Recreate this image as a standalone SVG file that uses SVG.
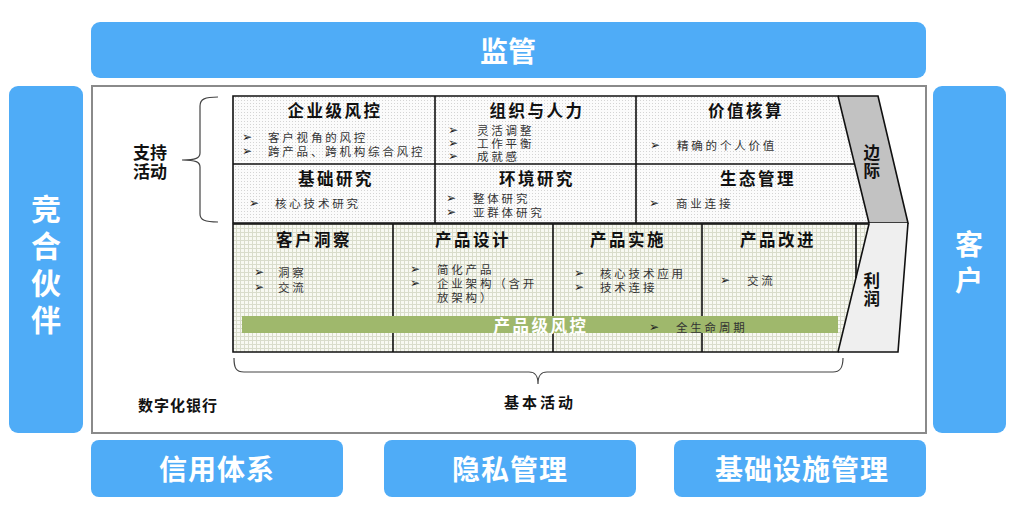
<svg xmlns="http://www.w3.org/2000/svg" width="1012" height="522" viewBox="0 0 1012 522">
<defs>
<pattern id="dots" width="3" height="3" patternUnits="userSpaceOnUse">
<rect width="3" height="3" fill="#fbfbfb"/>
<rect x="1" y="1" width="1" height="1" fill="#d4d4d4"/>
</pattern>
<pattern id="grid" width="4" height="4" patternUnits="userSpaceOnUse">
<rect width="4" height="4" fill="#f8f9f2"/>
<path d="M0,0.5H4M0.5,0V4" stroke="#d9dccb" stroke-width="1"/>
</pattern>
<style>
.blue{fill:#4facf7;}
.big{font-family:"Noto Sans CJK SC","Noto Sans",sans-serif;font-weight:700;fill:#fff;text-anchor:middle;dominant-baseline:central;}
.ttl{font-family:"Noto Sans CJK SC","Noto Sans",sans-serif;font-weight:700;font-size:16.5px;letter-spacing:2.5px;fill:#111;text-anchor:middle;dominant-baseline:central;}
.bt{font-family:"Noto Sans CJK SC",sans-serif;font-weight:400;font-size:11.5px;letter-spacing:2.8px;fill:#333;dominant-baseline:central;}
.ar{font-family:"DejaVu Sans",sans-serif;font-size:12px;fill:#222;dominant-baseline:central;}
.lbl{font-family:"Noto Sans CJK SC",sans-serif;font-weight:700;font-size:15px;fill:#111;dominant-baseline:central;}
.ln{stroke:#111;stroke-width:1.6;fill:none;}
.br{stroke:#444;stroke-width:1.2;fill:none;}
</style>
</defs>
<rect width="1012" height="522" fill="#fff"/>

<g id="regulation">
<rect class="blue" x="91" y="22" width="835" height="56" rx="9"/>
<text class="big" x="508" y="50" font-size="28">监管</text>
</g>
<g id="partners">
<rect class="blue" x="9" y="86" width="74" height="347" rx="9"/>
<text class="big" font-size="30"><tspan x="46" y="207">竞</tspan><tspan x="46" y="244">合</tspan><tspan x="46" y="281">伙</tspan><tspan x="46" y="318">伴</tspan></text>
</g>
<g id="customer">
<rect class="blue" x="933" y="86" width="73" height="347" rx="9"/>
<text class="big" font-size="28"><tspan x="969" y="243">客</tspan><tspan x="969" y="279">户</tspan></text>
</g>
<g id="credit">
<rect class="blue" x="91" y="440" width="252" height="57" rx="8"/>
<text class="big" x="217" y="468" font-size="28" letter-spacing="1">信用体系</text>
</g>
<g id="privacy">
<rect class="blue" x="384" y="440" width="252" height="57" rx="8"/>
<text class="big" x="510" y="468" font-size="28" letter-spacing="1">隐私管理</text>
</g>
<g id="infra">
<rect class="blue" x="674" y="440" width="252" height="57" rx="8"/>
<text class="big" x="802" y="468" font-size="28" letter-spacing="1">基础设施管理</text>
</g>

<g id="frame">
<rect x="92" y="86" width="834" height="347" fill="#fff" stroke="#8a8a8a" stroke-width="2"/>
<text class="lbl" x="138" y="404" letter-spacing="1">数字化银行</text>
</g>

<g id="support">
<path d="M233,96 L838,96 L869,223 L233,223 Z" fill="url(#dots)"/>
<path d="M838,96 L878,96 L908,223 L869,223 Z" fill="#c2c2c2"/>
<path d="M233,96 L838,96 L869,223 L233,223 Z" class="ln"/>
<path d="M838,96 L878,96 L908,223 L869,223" class="ln"/>
<path d="M435,96V223M636,96V223M233,164H854.6" class="ln"/>
</g>

<g id="primary">
<path d="M233,224 L869,224 L838,352 L233,352 Z" fill="url(#grid)"/>
<path d="M869,223 L908,223 L898,352 L838,352 Z" fill="#efefef"/>
<path d="M233,224 L869,224 L838,352 L233,352 Z" class="ln"/>
<path d="M908,223 L898,352 L838,352" class="ln"/>
<path d="M393,224V352M553,224V352M702,224V352M856,224V278" class="ln"/>
<rect x="242" y="316" width="596" height="17" fill="#9fb86c"/>
</g>

<g id="node-risk-enterprise">
<text class="ttl" x="335" y="110">企业级风控</text>
<text class="ar"><tspan x="242" y="137">➢</tspan><tspan x="242" y="151">➢</tspan></text>
<text class="bt"><tspan x="268" y="137">客户视角的风控</tspan><tspan x="268" y="151">跨产品、跨机构综合风控</tspan></text>
</g>
<g id="node-org">
<text class="ttl" x="537" y="110">组织与人力</text>
<text class="ar"><tspan x="448" y="130">➢</tspan><tspan x="448" y="143">➢</tspan><tspan x="448" y="156">➢</tspan></text>
<text class="bt"><tspan x="477" y="130">灵活调整</tspan><tspan x="477" y="143">工作平衡</tspan><tspan x="477" y="156">成就感</tspan></text>
</g>
<g id="node-value">
<text class="ttl" x="746" y="110">价值核算</text>
<text class="ar" x="650" y="145">➢</text><text class="bt" x="677" y="145">精确的个人价值</text>
</g>
<g id="node-basic-research">
<text class="ttl" x="336" y="178">基础研究</text>
<text class="ar" x="249" y="203">➢</text><text class="bt" x="275" y="203">核心技术研究</text>
</g>
<g id="node-env-research">
<text class="ttl" x="537" y="178">环境研究</text>
<text class="ar"><tspan x="446" y="198">➢</tspan><tspan x="446" y="212">➢</tspan></text>
<text class="bt"><tspan x="473" y="198">整体研究</tspan><tspan x="473" y="212">亚群体研究</tspan></text>
</g>
<g id="node-eco">
<text class="ttl" x="758" y="178">生态管理</text>
<text class="ar" x="649" y="203">➢</text><text class="bt" x="676" y="203">商业连接</text>
</g>
<g id="node-margin">
<text class="ttl" letter-spacing="0"><tspan x="873" y="152">边</tspan><tspan x="873" y="170">际</tspan></text>
<text class="ttl" letter-spacing="0"><tspan x="873" y="280">利</tspan><tspan x="873" y="298">润</tspan></text>
</g>
<g id="node-insight">
<text class="ttl" x="314" y="239">客户洞察</text>
<text class="ar"><tspan x="254" y="272">➢</tspan><tspan x="254" y="287">➢</tspan></text>
<text class="bt"><tspan x="278" y="272">洞察</tspan><tspan x="278" y="287">交流</tspan></text>
</g>
<g id="node-design">
<text class="ttl" x="473" y="239">产品设计</text>
<text class="ar"><tspan x="410" y="269">➢</tspan><tspan x="410" y="283">➢</tspan></text>
<text class="bt"><tspan x="437" y="269">简化产品</tspan><tspan x="437" y="283">企业架构（含开</tspan><tspan x="437" y="297">放架构）</tspan></text>
</g>
<g id="node-impl">
<text class="ttl" x="628" y="239">产品实施</text>
<text class="ar"><tspan x="574" y="273">➢</tspan><tspan x="574" y="287">➢</tspan></text>
<text class="bt"><tspan x="600" y="273">核心技术应用</tspan><tspan x="600" y="287">技术连接</tspan></text>
</g>
<g id="node-improve">
<text class="ttl" x="778" y="239">产品改进</text>
<text class="ar" x="720" y="280">➢</text><text class="bt" x="747" y="280">交流</text>
</g>
<g id="node-product-risk">
<text class="ttl" x="541" y="325" style="fill:#fff">产品级风控</text>
<text class="ar" x="649" y="327">➢</text><text class="bt" x="676" y="327">全生命周期</text>
</g>

<g id="connectors">
<path class="br" d="M218,97 C205,97 200,99 200,106 L200,153 C200,158 196,160 182,160 C196,160 200,162 200,167 L200,214 C200,220 205,222 218,222"/>
<path class="br" d="M234,358 C234,368 236,372 244,372 L529,372 C535,372 538,375 538,384 C538,375 541,372 547,372 L833,372 C840,372 843,368 843,358"/>
</g>
<g id="labels">
<text class="lbl" style="text-anchor:middle;font-size:17px"><tspan x="150" y="151">支持</tspan><tspan x="150" y="170">活动</tspan></text>
<text class="lbl" x="540" y="401" letter-spacing="3" style="text-anchor:middle">基本活动</text>
</g>
</svg>
